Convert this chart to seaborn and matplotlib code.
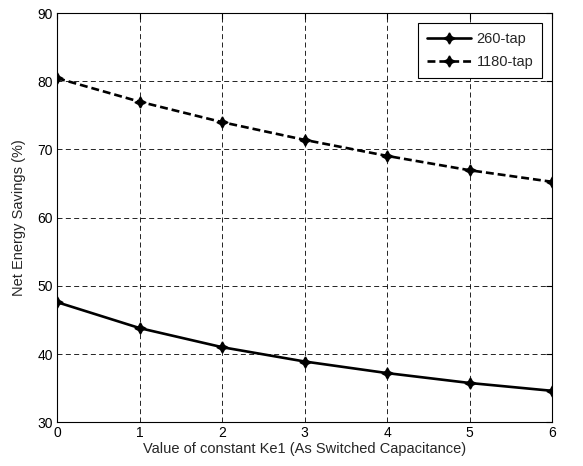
import matplotlib
matplotlib.use("Agg")
import matplotlib.pyplot as plt
import seaborn as sns
import pandas as pd

ke1 = [0, 1, 2, 3, 4, 5, 6]
tap260 = [47.6, 43.8, 41.0, 38.9, 37.2, 35.75, 34.6]
tap1180 = [80.45, 77.0, 74.0, 71.4, 69.05, 66.95, 65.25]
series_names = ["260-tap", "1180-tap"]

df = pd.concat([
    pd.DataFrame({"x": ke1, "y": tap260, "series": series_names[0]}),
    pd.DataFrame({"x": ke1, "y": tap1180, "series": series_names[1]}),
])

sns.set_style("white")
plt.rcParams['font.family'] = ['Liberation Sans', 'DejaVu Sans']

fig = plt.figure(figsize=(5.83, 4.66), dpi=100)
ax = fig.add_axes([0.098, 0.094, 0.849, 0.878])

star = (4, 1, 0)
sns.lineplot(data=df, x="x", y="y", hue="series", style="series",
             palette={series_names[0]: "black", series_names[1]: "black"},
             dashes={series_names[0]: "", series_names[1]: (3, 1.5)},
             markers={series_names[0]: star, series_names[1]: star},
             markersize=8, markeredgecolor="black", markeredgewidth=1.0,
             linewidth=1.9, ax=ax, zorder=3)

ax.set_xlim(0, 6)
ax.set_ylim(30, 90)
ax.set_xticks(range(0, 7))
ax.set_yticks(range(30, 91, 10))
ax.grid(True, color="black", linestyle=(0, (6, 4)), linewidth=0.6)
for s in ax.spines.values():
    s.set_color("black")
    s.set_linewidth(0.8)
ax.tick_params(direction="in", length=4, colors="black", labelsize=10,
               top=True, right=True, pad=3)
ax.set_xlabel("Value of constant Ke1 (As Switched Capacitance)", fontsize=10.5, labelpad=1)
ax.set_ylabel("Net Energy Savings (%)", fontsize=10.5, labelpad=8)

leg = ax.legend(loc="upper right", fontsize=10.5, frameon=True, fancybox=False,
                edgecolor="black", framealpha=1, borderaxespad=0.7, handlelength=3,
                labelspacing=0.65, borderpad=0.6, handletextpad=0.4)
leg.get_frame().set_linewidth(0.8)

fig.savefig("out.png", dpi=100)
